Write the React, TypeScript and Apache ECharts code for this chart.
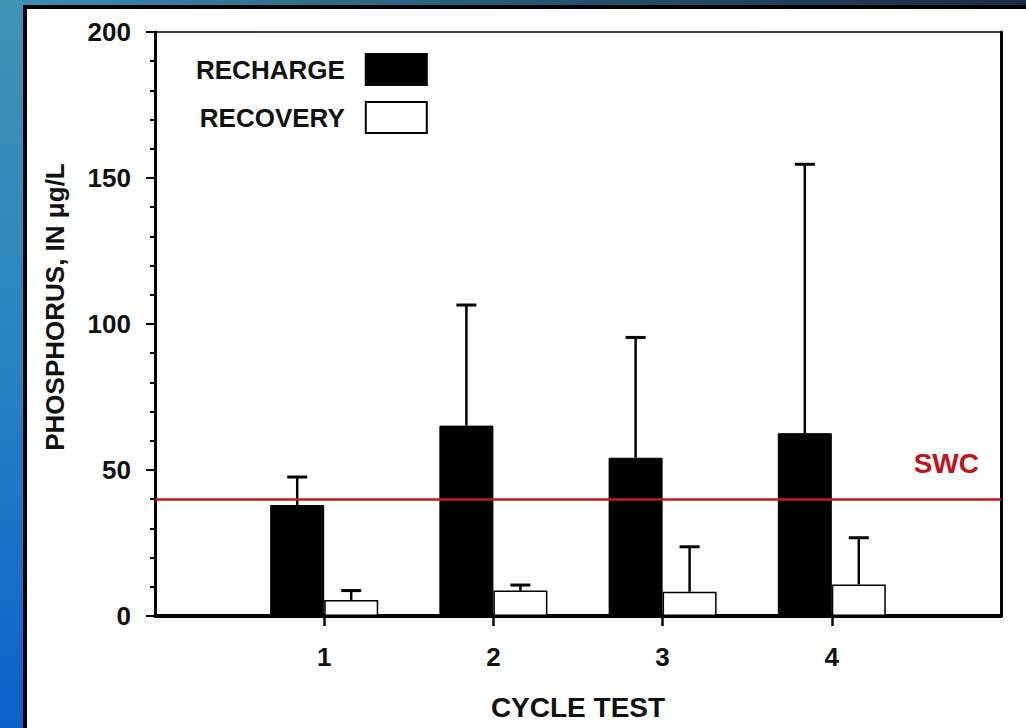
import React, { useEffect, useRef } from "react";
import * as echarts from "echarts";

const cycles = [1, 2, 3, 4];
const rechargeMean = [38, 65.2, 54.2, 62.6];
const rechargeUpper = [47.6, 106.5, 95.4, 154.7];
const recoveryMean = [5.5, 8.7, 8.3, 10.8];
const recoveryUpper = [8.7, 10.6, 23.7, 26.8];
const swcValue = 40;
const xMin = 0;
const xMax = 5;
const yMin = 0;
const yMax = 200;
const yInterval = 50;

const FONT = "'Liberation Sans', Arial, Helvetica, sans-serif";
const BAR_W = 54;

function errorSeries(name: string, means: number[], uppers: number[], offset: number) {
  return {
    type: "custom",
    name,
    z: 5,
    data: cycles.map((c, i) => [c, means[i], uppers[i]]),
    encode: { x: 0, y: [1, 2] },
    renderItem: (params: any, api: any) => {
      const x = api.value(0);
      const m = api.value(1);
      const u = api.value(2);
      const p0 = api.coord([x, m]);
      const p1 = api.coord([x, u]);
      const cx = p0[0] + offset;
      return {
        type: "group",
        children: [
          { type: "line", shape: { x1: cx, y1: p0[1], x2: cx, y2: p1[1] }, style: { stroke: "#000", lineWidth: 2.5 } },
          { type: "line", shape: { x1: cx - 10, y1: p1[1], x2: cx + 10, y2: p1[1] }, style: { stroke: "#000", lineWidth: 3 } },
        ],
      };
    },
  };
}

export default function App() {
  const ref = useRef<HTMLDivElement>(null);
  useEffect(() => {
    if (!ref.current) return;
    const chart = echarts.init(ref.current, null, { renderer: "svg" });
    const option: any = {
      animation: false,
      backgroundColor: "#ffffff",
      textStyle: { fontFamily: FONT },
      graphic: [
        {
          type: "rect", z: -100, silent: true,
          shape: { x: 0, y: 0, width: 1026, height: 6 },
          style: { fill: new echarts.graphic.LinearGradient(0, 0, 1, 0, [
            { offset: 0, color: "#3f8fb3" }, { offset: 0.5, color: "#245778" }, { offset: 1, color: "#1a2c44" },
          ]) },
        },
        {
          type: "rect", z: -100, silent: true,
          shape: { x: 0, y: 0, width: 24, height: 728 },
          style: { fill: new echarts.graphic.LinearGradient(0, 0, 0, 1, [
            { offset: 0, color: "#3f93b4" }, { offset: 0.5, color: "#2a82c0" }, { offset: 1, color: "#0f5ecc" },
          ]) },
        },
        { type: "rect", z: -99, silent: true, shape: { x: 23, y: 5, width: 1003, height: 723 }, style: { fill: "#000" } },
        { type: "rect", z: -98, silent: true, shape: { x: 27, y: 9, width: 999, height: 719 }, style: { fill: "#fff" } },
        {
          type: "text", z: 10, x: 55, y: 307, rotation: Math.PI / 2,
          style: { text: "PHOSPHORUS, IN μg/L", font: `bold 26px ${FONT}`, fill: "#111", align: "center", verticalAlign: "middle" },
        },
      ],
      legend: {
        orient: "vertical",
        left: 191,
        top: 48,
        align: "right",
        itemWidth: 61,
        itemHeight: 31,
        itemGap: 15,
        selectedMode: false,
        textStyle: { fontFamily: FONT, fontWeight: "bold", fontSize: 26, color: "#111", padding: [0, 16, 0, 0] },
        data: [
          { name: "RECHARGE", icon: "rect", itemStyle: { color: "#000", borderColor: "#000", borderWidth: 2 } },
          { name: "RECOVERY", icon: "rect", itemStyle: { color: "#fff", borderColor: "#000", borderWidth: 2 } },
        ],
      },
      grid: { left: 155, right: 25, top: 32, bottom: 112, containLabel: false },
      xAxis: [
        {
          type: "value", min: xMin, max: xMax, interval: 1,
          name: "CYCLE TEST", nameLocation: "middle", nameGap: 77,
          nameTextStyle: { fontFamily: FONT, fontWeight: "bold", fontSize: 28, color: "#111" },
          axisLine: { show: true, onZero: false, lineStyle: { color: "#000", width: 4 } },
          axisTick: { show: true, length: 10, customValues: cycles, lineStyle: { color: "#000", width: 2.5 } },
          axisLabel: { customValues: cycles, margin: 28, fontFamily: FONT, fontWeight: "bold", fontSize: 26, color: "#111" },
          splitLine: { show: false },
        },
        {
          type: "value", min: xMin, max: xMax, position: "top",
          axisLine: { show: true, onZero: false, lineStyle: { color: "#000", width: 1.5 } },
          axisTick: { show: false }, axisLabel: { show: false }, splitLine: { show: false },
        },
      ],
      yAxis: [
        {
          type: "value", min: yMin, max: yMax, interval: yInterval,
          axisLine: { show: true, onZero: false, lineStyle: { color: "#000", width: 3 } },
          axisTick: { show: true, length: 9, lineStyle: { color: "#000", width: 2 } },
          minorTick: { show: true, splitNumber: 5, length: 5, lineStyle: { color: "#000", width: 2 } },
          axisLabel: { margin: 24, fontFamily: FONT, fontWeight: "bold", fontSize: 26, color: "#111" },
          splitLine: { show: false },
        },
        {
          type: "value", min: yMin, max: yMax, position: "right",
          axisLine: { show: true, onZero: false, lineStyle: { color: "#000", width: 3 } },
          axisTick: { show: false }, axisLabel: { show: false }, splitLine: { show: false },
        },
      ],
      series: [
        {
          type: "bar", name: "RECHARGE", barWidth: BAR_W, barGap: "0%",
          data: cycles.map((c, i) => [c, rechargeMean[i]]),
          itemStyle: { color: "#000", borderColor: "#000", borderWidth: 1 },
          markLine: {
            silent: true, symbol: "none", z: 6,
            lineStyle: { color: "#c41a1a", width: 2.5, type: "solid" },
            label: { show: true, formatter: "SWC", position: "insideEndTop", distance: 10,
              padding: [0, 12, 12, 0],
              fontFamily: FONT, fontWeight: "bold", fontSize: 28, color: "#c0141c" },
            data: [{ yAxis: swcValue }],
          },
        },
        {
          type: "bar", name: "RECOVERY", barWidth: BAR_W, barGap: "0%",
          data: cycles.map((c, i) => [c, recoveryMean[i]]),
          itemStyle: { color: "#fff", borderColor: "#000", borderWidth: 1.5 },
        },
        errorSeries("RECHARGE_ERR", rechargeMean, rechargeUpper, -BAR_W / 2),
        errorSeries("RECOVERY_ERR", recoveryMean, recoveryUpper, BAR_W / 2),
      ],
    };
    chart.setOption(option);
    return () => chart.dispose();
  }, []);
  return <div ref={ref} style={{ position: "fixed", left: 0, top: 0, width: 1026, height: 728 }} />;
}
